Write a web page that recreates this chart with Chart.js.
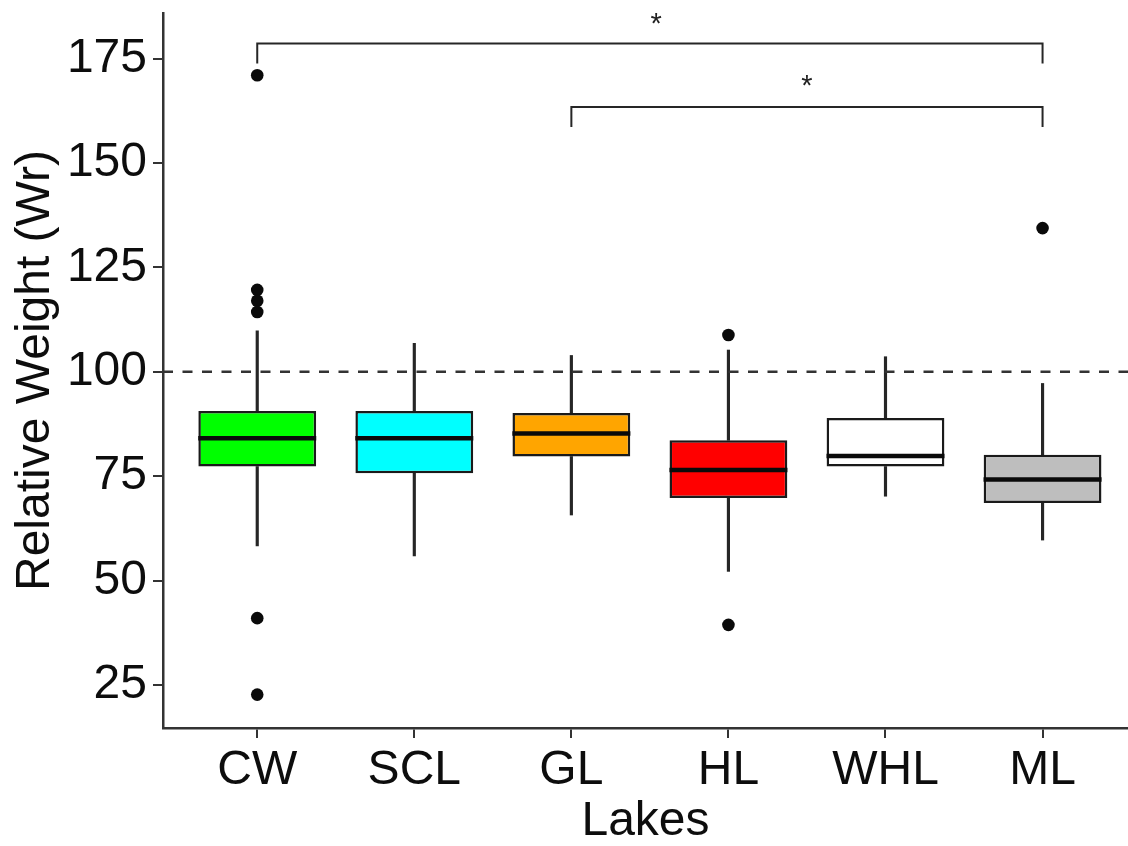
<!DOCTYPE html>
<html>
<head>
<meta charset="utf-8">
<script src="https://cdn.jsdelivr.net/npm/chart.js@4.4.1/dist/chart.umd.min.js"></script>
<style>
  html, body { margin: 0; padding: 0; background: #fff; }
  #wrap { width: 1128px; height: 846px; }
</style>
</head>
<body>
<div id="wrap"><canvas id="lakesChart"></canvas></div>
<script>
// lakes and box statistics
const lakes = ['CW', 'SCL', 'GL', 'HL', 'WHL', 'ML'];
const boxColors = ['#00FF00', '#00FFFF', '#FFA500', '#FF0000', '#FFFFFF', '#BEBEBE'];
const q1 = [77.3, 75.7, 79.7, 69.8, 77.3, 68.6];
const median = [84.1, 84.1, 85.2, 76.5, 79.8, 74.2];
const q3 = [90.6, 90.6, 90.1, 83.6, 88.9, 80.1];
const whiskerLow = [58.3, 55.9, 65.7, 52.2, 70.2, 59.7];
const whiskerHigh = [109.8, 106.8, 103.9, 105.2, 103.6, 97.2];
const outlierLake = [1, 1, 1, 1, 1, 1, 4, 4, 6];
const outlierValue = [171.0, 119.6, 117.0, 114.3, 41.0, 22.7, 108.8, 39.4, 134.4];

const yTicks = [25, 50, 75, 100, 125, 150, 175];
const refValue = 100;

// significance brackets
const bracketFrom = [1, 3];
const bracketTo = [6, 6];
const bracketTop = [178.6, 163.4];
const bracketFoot = [173.8, 158.6];
const starX = [3.54, 4.5];
const starY = [183.0, 168.1];
const starText = ['*', '*'];

const xMin = 0.4, xMax = 6.544;
const yMin = 14.7, yMax = 185.9;

//////////

const FONT = "'Liberation Sans', Arial, sans-serif";
const ink = '#262626';

const pos = lakes.map((_, i) => i + 1);

const bracketSets = bracketFrom.map((from, i) => ({
  type: 'line',
  data: [
    { x: from, y: bracketFoot[i] },
    { x: from, y: bracketTop[i] },
    { x: bracketTo[i], y: bracketTop[i] },
    { x: bracketTo[i], y: bracketFoot[i] },
  ],
  borderColor: ink,
  borderWidth: 2,
  pointRadius: 0,
  fill: false,
  tension: 0,
  order: 2,
}));

const starPlugin = {
  id: 'stars',
  afterDatasetsDraw(chart){
    const { ctx, scales: { x, y } } = chart;
    ctx.save();
    ctx.fillStyle = '#222';
    ctx.font = `29px ${FONT}`;
    ctx.textAlign = 'center';
    ctx.textBaseline = 'middle';
    starText.forEach((t, i) => {
      ctx.fillText(t, x.getPixelForValue(starX[i]), y.getPixelForValue(starY[i]));
    });
    ctx.restore();
  }
};

new Chart(document.getElementById('lakesChart'), {
  data: {
    datasets: [
      {
        type: 'bar',
        data: pos.map((p, i) => ({ x: p, y: [q3[i], whiskerHigh[i]] })),
        backgroundColor: ink,
        barThickness: 2.5,
        grouped: false,
        order: 6,
      },
      {
        type: 'bar',
        data: pos.map((p, i) => ({ x: p, y: [whiskerLow[i], q1[i]] })),
        backgroundColor: ink,
        barThickness: 2.5,
        grouped: false,
        order: 6,
      },
      {
        type: 'bar',
        data: pos.map((p, i) => ({ x: p, y: [q1[i], q3[i]] })),
        backgroundColor: boxColors,
        borderColor: '#1a1a1a',
        borderWidth: 2.5,
        borderSkipped: false,
        categoryPercentage: 1,
        barPercentage: 0.75,
        grouped: false,
        order: 4,
      },
      {
        type: 'scatter',
        data: pos.map((p, i) => ({ x: p, y: median[i] })),
        pointStyle: 'line',
        pointRadius: 59,
        borderColor: '#0a0a0a',
        borderWidth: 4.5,
        order: 1,
      },
      {
        type: 'scatter',
        data: outlierLake.map((p, i) => ({ x: p, y: outlierValue[i] })),
        pointRadius: 6.3,
        backgroundColor: '#0a0a0a',
        borderWidth: 0,
        order: 1,
      },
      {
        type: 'line',
        data: [{ x: xMin, y: refValue }, { x: xMax, y: refValue }],
        borderColor: '#333',
        borderWidth: 2.5,
        borderDash: [10, 9.5],
        pointRadius: 0,
        fill: false,
        order: 5,
      },
      ...bracketSets,
    ]
  },
  options: {
    responsive: true,
    maintainAspectRatio: false,
    animation: false,
    events: [],
    layout: { autoPadding: false, padding: { top: 13, right: 0, bottom: 0, left: 0 } },
    plugins: { legend: { display: false }, tooltip: { enabled: false } },
    scales: {
      x: {
        type: 'linear',
        min: xMin,
        max: xMax,
        offset: false,
        afterBuildTicks: (s) => { s.ticks = pos.map(v => ({ value: v })); },
        afterFit: (s) => { s.height = 118; s.paddingLeft = 0; s.paddingRight = 0; },
        ticks: {
          color: '#0d0d0d',
          font: { family: FONT, size: 48 },
          padding: 4,
          maxRotation: 0,
          callback: (v) => lakes[v - 1],
        },
        grid: { offset: false, drawOnChartArea: false, tickLength: 10, color: '#333', lineWidth: 2 },
        border: { display: true, color: '#333', width: 2.5 },
        title: {
          display: true,
          text: 'Lakes',
          color: '#0d0d0d',
          font: { family: FONT, size: 48, lineHeight: 1 },
          padding: { top: 0, bottom: 0 },
        },
      },
      y: {
        type: 'linear',
        min: yMin,
        max: yMax,
        afterBuildTicks: (s) => { s.ticks = yTicks.map(v => ({ value: v })); },
        afterFit: (s) => { s.width = 163; s.paddingTop = 0; s.paddingBottom = 0; },
        ticks: {
          color: '#0d0d0d',
          font: { family: FONT, size: 48 },
          padding: 6,
        },
        grid: { drawOnChartArea: false, tickLength: 10, color: '#333', lineWidth: 2 },
        border: { display: true, color: '#333', width: 2.5 },
        title: {
          display: true,
          text: 'Relative Weight (Wr)',
          color: '#0d0d0d',
          font: { family: FONT, size: 48, lineHeight: 1 },
          padding: { top: 12, bottom: 0 },
        },
      }
    }
  },
  plugins: [starPlugin]
});
</script>
</body>
</html>
